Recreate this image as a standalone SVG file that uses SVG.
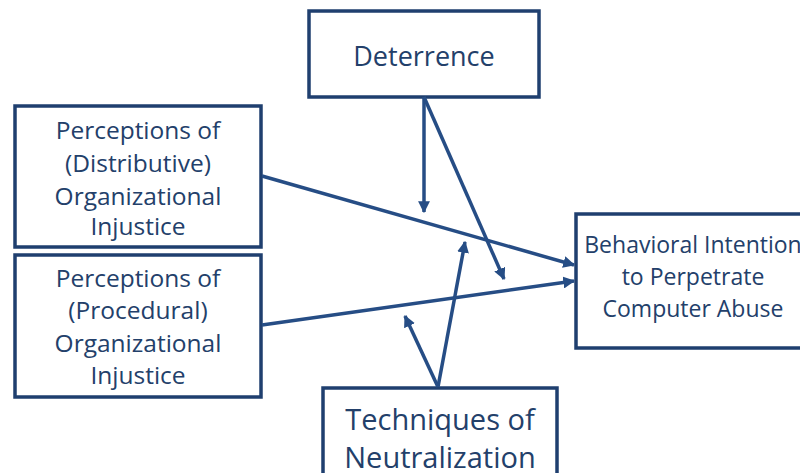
<svg xmlns="http://www.w3.org/2000/svg" width="800" height="473" viewBox="0 0 800 473">
<style>
.box{fill:#fff;stroke:#1f3f6f;stroke-width:3.5}
.t{font-family:"Open Sans","Liberation Sans",sans-serif;fill:#23406a;text-anchor:middle}
.s{font-size:24.5px}
.b{font-size:23px}
.l{font-size:27px}
.n{font-size:29px}
.c{stroke:#264d85;stroke-width:3.5;fill:none;marker-end:url(#ah)}
</style>
<defs>
<marker id="ah" viewBox="0 0 10 10" refX="9" refY="5" markerWidth="3.4" markerHeight="3.4" orient="auto" markerUnits="strokeWidth">
<path d="M0,0 L10,5 L0,10 z" fill="#264d85"/>
</marker>
</defs>
<rect width="800" height="473" fill="#fff"/>
<g id="deterrence">
<rect class="box" x="309" y="11" width="230" height="86"/>
<text class="t l" x="424" y="66">Deterrence</text>
</g>
<g id="distributive">
<rect class="box" x="15" y="106" width="246" height="141"/>
<text class="t s" x="138" y="139">Perceptions of</text>
<text class="t s" x="138" y="172">(Distributive)</text>
<text class="t s" x="138" y="205">Organizational</text>
<text class="t s" x="138" y="235">Injustice</text>
</g>
<g id="procedural">
<rect class="box" x="15" y="255" width="246" height="142"/>
<text class="t s" x="138" y="287">Perceptions of</text>
<text class="t s" x="138" y="319">(Procedural)</text>
<text class="t s" x="138" y="352">Organizational</text>
<text class="t s" x="138" y="384">Injustice</text>
</g>
<g id="behavioral">
<rect class="box" x="576" y="214" width="240" height="134"/>
<text class="t b" x="693" y="253">Behavioral Intention</text>
<text class="t b" x="693" y="285">to Perpetrate</text>
<text class="t b" x="693" y="317">Computer Abuse</text>
</g>
<g id="techniques">
<rect class="box" x="323" y="388" width="234" height="100"/>
<text class="t n" x="440" y="430">Techniques of</text>
<text class="t n" x="440" y="468">Neutralization</text>
</g>
<g id="connectors">
<path class="c" d="M424,97 L424,212"/>
<path class="c" d="M424,97 L504,279"/>
<path class="c" d="M262,176 L574,265"/>
<path class="c" d="M262,325 L574,281"/>
<path class="c" d="M438,387 L465,242"/>
<path class="c" d="M438,387 L405,316"/>
</g>
</svg>
